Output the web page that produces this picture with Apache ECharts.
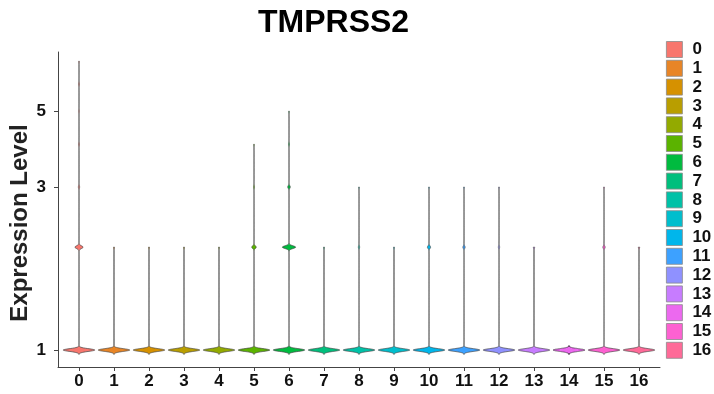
<!DOCTYPE html>
<html>
<head>
<meta charset="utf-8">
<script src="https://cdn.jsdelivr.net/npm/echarts@6/dist/echarts.min.js"></script>
<style>html,body{margin:0;padding:0;background:#fff}#c{width:714px;height:394px}</style>
</head>
<body>
<div id="c"></div>
<script>
// ---- data ----
const categories = ['0','1','2','3','4','5','6','7','8','9','10','11','12','13','14','15','16'];
// highest expression level reached in each cluster (top of the violin)
const maxExpr = [7, 2, 2, 2, 2, 4, 5, 2, 3, 2, 3, 3, 3, 2, 1, 3, 2];
// relative density (vs. the peak at level 1) at expression levels 2..7
const dens2 = [0.26, 0.03, 0.03, 0.03, 0.03, 0.14, 0.42, 0.03, 0.04, 0.03, 0.10, 0.07, 0.04, 0.04, 0, 0.07, 0.04];
const dens3 = [0.04, 0, 0, 0, 0, 0.03, 0.08, 0, 0.02, 0, 0.02, 0.02, 0.02, 0, 0, 0.02, 0];
const dens4 = [0.03, 0, 0, 0, 0, 0.02, 0.03, 0, 0, 0, 0, 0, 0, 0, 0, 0, 0];
const dens5 = [0.02, 0, 0, 0, 0, 0, 0.02, 0, 0, 0, 0, 0, 0, 0, 0, 0, 0];
const dens6 = [0.03, 0, 0, 0, 0, 0, 0, 0, 0, 0, 0, 0, 0, 0, 0, 0, 0];
const dens7 = [0.02, 0, 0, 0, 0, 0, 0, 0, 0, 0, 0, 0, 0, 0, 0, 0, 0];
const yTicks = [1, 3, 5];

const palette = ['#F8766D','#E88526','#D69100','#B99E00','#93AA00','#5BB300','#00BB3F','#00BF7D',
  '#00C1A7','#00BECD','#00B6EB','#3DA1FF','#8F91FF','#C77CFF','#EC69EF','#FD61D1','#FF6A98'];

const FONT = 'Liberation Sans, Arial, sans-serif';
const bw = 0.004; // kernel bandwidth in log10 units

function makeRender(ci) {
  return function (params, api) {
    const i = api.value(0);
    const x0 = api.coord([i, 1])[0];
    const halfPx = api.coord([i + 0.45, 1])[0] - x0;
    const ws = [1, dens2[ci], dens3[ci], dens4[ci], dens5[ci], dens6[ci], dens7[ci]];
    const dens = t => {
      let s = 0;
      for (let k = 0; k < ws.length; k++) {
        if (!ws[k]) continue;
        const z = (t - Math.log10(k + 1)) / bw;
        s += ws[k] * Math.exp(-0.5 * z * z);
      }
      return s;
    };
    const peak = dens(0);
    const tBot = -3.2 * bw;
    const tTop = Math.max(Math.log10(maxExpr[ci]), 3.2 * bw);
    const n = 900;
    const right = [], left = [];
    for (let j = 0; j <= n; j++) {
      const t = tBot + (tTop - tBot) * j / n;
      const y = api.coord([i, Math.pow(10, t)])[1];
      const w = halfPx * dens(t) / peak;
      right.push([x0 + w, y]);
      left.push([x0 - w, y]);
    }
    const pts = right.concat(left.reverse());
    return {
      type: 'polygon',
      shape: { points: pts },
      style: { fill: palette[ci], stroke: '#444', lineWidth: 0.7 }
    };
  };
}

const series = categories.map((name, ci) => ({
  name: name,
  type: 'custom',
  color: palette[ci],
  itemStyle: { color: palette[ci] },
  renderItem: makeRender(ci),
  encode: { x: 0, y: 1 },
  data: [[ci, 1]],
  clip: false
}));

const chart = echarts.init(document.getElementById('c'), null, { renderer: 'canvas' });
chart.setOption({
  animation: false,
  backgroundColor: '#fff',
  title: {
    text: 'TMPRSS2',
    left: 258, top: 7, padding: 0,
    textStyle: { fontFamily: FONT, fontSize: 32, fontWeight: 'bold', color: '#000' }
  },
  graphic: [{
    type: 'text',
    x: 20, y: 223,
    rotation: Math.PI / 2,
    style: {
      text: 'Expression Level',
      fontFamily: FONT, fontSize: 24, fontWeight: 'bold', fill: '#222',
      align: 'center', verticalAlign: 'middle'
    }
  }],
  legend: {
    orient: 'vertical',
    left: 666, top: 41,
    padding: 0,
    itemWidth: 16, itemHeight: 16, itemGap: 1.8,
    icon: 'rect',
    selectedMode: false,
    itemStyle: { borderColor: '#8a8a8a', borderWidth: 0.8 },
    textStyle: { fontFamily: FONT, fontSize: 17, fontWeight: 'bold', color: '#111', padding: [0, 0, 0, 5] },
    data: categories
  },
  grid: { left: 58, right: 54, top: 52, bottom: 27, containLabel: false },
  xAxis: {
    type: 'value',
    min: -0.6, max: 16.6,
    splitLine: { show: false },
    axisLine: { show: true, onZero: false, lineStyle: { color: '#444', width: 1 } },
    axisTick: { show: true, length: 4, lineStyle: { color: '#444' }, customValues: categories.map((c, i) => i) },
    axisLabel: {
      customValues: categories.map((c, i) => i),
      formatter: v => categories[Math.round(v)],
      fontFamily: FONT, fontSize: 17, fontWeight: 'bold', color: '#111', margin: 6
    }
  },
  yAxis: {
    type: 'log',
    logBase: 10,
    min: 0.892, max: 7.45,
    splitLine: { show: false },
    axisLine: { show: true, onZero: false, lineStyle: { color: '#444', width: 1 } },
    axisTick: { show: true, length: 4, lineStyle: { color: '#444' }, customValues: yTicks },
    axisLabel: {
      customValues: yTicks,
      formatter: v => String(Math.round(v)),
      fontFamily: FONT, fontSize: 17, fontWeight: 'bold', color: '#111', margin: 12
    }
  },
  series: series
});
</script>
</body>
</html>
